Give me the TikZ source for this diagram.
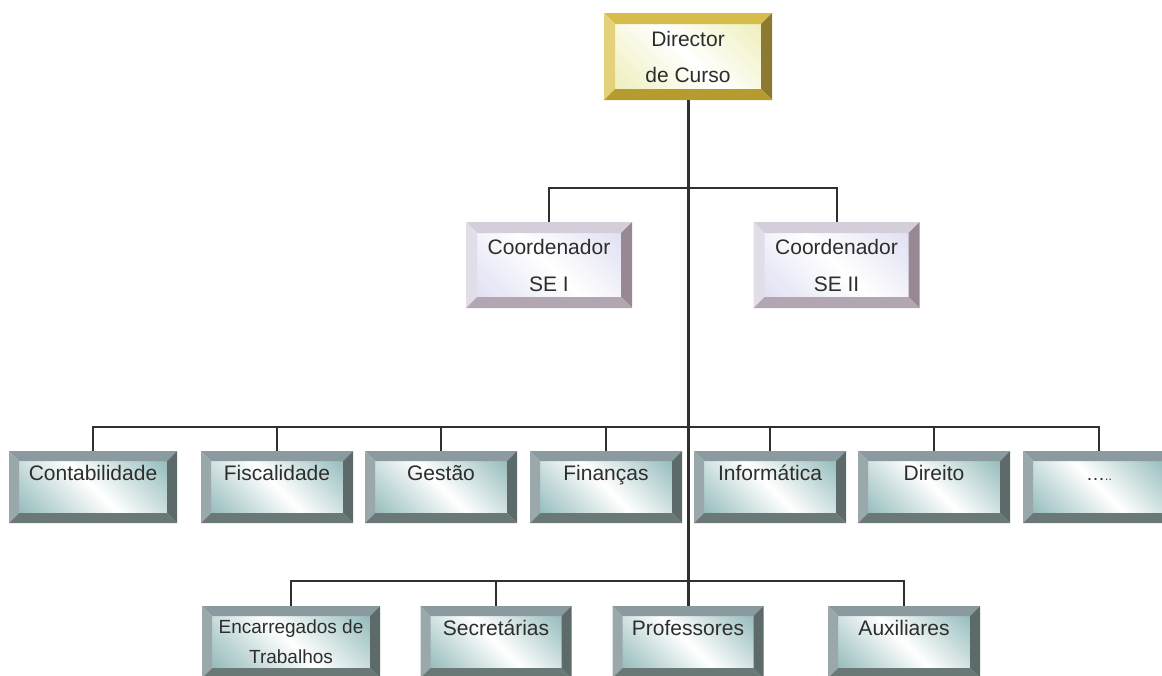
\documentclass[tikz,border=0pt]{standalone}
\usepackage{fontspec}
\setmainfont{Liberation Sans}

% bevel palettes: top, left, right, bottom edges and the face tint
\definecolor{gold-top}{RGB}{214,188,74}
\definecolor{gold-left}{RGB}{228,210,122}
\definecolor{gold-right}{RGB}{140,122,50}
\definecolor{gold-bottom}{RGB}{182,156,46}
\definecolor{gold-face}{RGB}{236,236,176}
\definecolor{lav-top}{RGB}{212,206,218}
\definecolor{lav-left}{RGB}{226,222,232}
\definecolor{lav-right}{RGB}{152,136,146}
\definecolor{lav-bottom}{RGB}{178,166,178}
\definecolor{lav-face}{RGB}{218,218,240}
\definecolor{teal-top}{RGB}{138,154,158}
\definecolor{teal-left}{RGB}{154,168,172}
\definecolor{teal-right}{RGB}{92,106,106}
\definecolor{teal-bottom}{RGB}{106,120,120}
\definecolor{teal-face}{RGB}{130,175,175}
\definecolor{txt}{RGB}{45,45,45}
\definecolor{wire}{RGB}{48,48,48}

\pgfdeclarehorizontalshading{face-gold}{100bp}{color(0bp)=(gold-face); color(15bp)=(gold-face); color(50bp)=(white); color(85bp)=(gold-face); color(100bp)=(gold-face)}
\pgfdeclarehorizontalshading{face-lav}{100bp}{color(0bp)=(lav-face); color(15bp)=(lav-face); color(50bp)=(white); color(85bp)=(lav-face); color(100bp)=(lav-face)}
\pgfdeclarehorizontalshading{face-teal}{100bp}{color(0bp)=(teal-face); color(15bp)=(teal-face); color(50bp)=(white); color(85bp)=(teal-face); color(100bp)=(teal-face)}

\newcommand\bvpal{teal}
\newlength\bvw
\setlength\bvw{10pt}

\tikzset{
  bvpalette/.code={\def\bvpal{#1}},
  bvsize/.code={\setlength\bvw{#1}},
  bevelbox/.style={
    rectangle, inner sep=0pt, text=txt, align=center,
    font=\fontsize{21}{36}\selectfont,
    path picture={
      \shade[shading=face-\bvpal, shading angle=45]
        ([shift={(\bvw,\bvw)}]path picture bounding box.south west) rectangle
        ([shift={(-\bvw,-\bvw)}]path picture bounding box.north east);
      \fill[\bvpal-top] (path picture bounding box.north west) -- (path picture bounding box.north east)
        -- ([shift={(-\bvw,-\bvw)}]path picture bounding box.north east)
        -- ([shift={(\bvw,-\bvw)}]path picture bounding box.north west) -- cycle;
      \fill[\bvpal-left] (path picture bounding box.north west) -- (path picture bounding box.south west)
        -- ([shift={(\bvw,\bvw)}]path picture bounding box.south west)
        -- ([shift={(\bvw,-\bvw)}]path picture bounding box.north west) -- cycle;
      \fill[\bvpal-right] (path picture bounding box.north east) -- (path picture bounding box.south east)
        -- ([shift={(-\bvw,\bvw)}]path picture bounding box.south east)
        -- ([shift={(-\bvw,-\bvw)}]path picture bounding box.north east) -- cycle;
      \fill[\bvpal-bottom] (path picture bounding box.south west) -- (path picture bounding box.south east)
        -- ([shift={(-\bvw,\bvw)}]path picture bounding box.south east)
        -- ([shift={(\bvw,\bvw)}]path picture bounding box.south west) -- cycle;
    }
  },
  chief/.style={bevelbox, bvpalette=gold, bvsize=11pt, minimum width=168pt, minimum height=87pt},
  coord/.style={bevelbox, bvpalette=lav, bvsize=11pt, minimum width=166pt, minimum height=86pt,
    font=\fontsize{21}{37}\selectfont},
  unitbox/.style={bevelbox, bvpalette=teal, bvsize=10pt, minimum width=152pt, minimum height=72pt},
  unit/.style={unitbox, text height=15pt, text depth=28pt},
  conn/.style={draw=wire, line width=2pt},
  trunk/.style={draw=wire, line width=3pt}
}

\begin{document}
\begin{tikzpicture}[x=1pt, y=-1pt]
\useasboundingbox (0,0) rectangle (1162,675);
\clip (0,0) rectangle (1162,675);

% head of the course
\node[chief] (dir) at (688,56.5) {Director\\de Curso};

% coordinators
\node[coord] (se1) at (549,265) {Coordenador\\SE I};
\node[coord] (se2) at (836.5,265) {Coordenador\\SE II};

% areas
\node[unit, minimum width=168pt] (cont) at (93,487) {Contabilidade};
\node[unit] (fisc) at (277,487) {Fiscalidade};
\node[unit] (gest) at (441,487) {Gestão};
\node[unit] (fin)  at (606,487) {Finanças};
\node[unit] (inf)  at (770,487) {Informática};
\node[unit] (dir2) at (934,487) {Direito};
\node[unit] (more) at (1099,487) {{\fontsize{19}{19}\selectfont …}{\fontsize{12}{12}\selectfont ..}};

% staff
\node[unitbox, minimum width=178pt, font=\fontsize{19}{30}\selectfont] (enc) at (291,642) {Encarregados de\\Trabalhos};
\node[unit, minimum width=151pt] (sec)  at (496,642) {Secretárias};
\node[unit, minimum width=151pt] (prof) at (688,642) {Professores};
\node[unit] (aux)  at (904,642) {Auxiliares};

% bus levels
\coordinate (busA) at (0,188);
\coordinate (busB) at (0,427);
\coordinate (busC) at (0,581);

% connectors
\draw[conn] (se1.north) -- (se1.north |- busA) -- (se2.north |- busA) -- (se2.north);
\draw[conn] (cont.north) -- (cont.north |- busB) -- (more.north |- busB) -- (more.north);
\foreach \n in {fisc,gest,fin,inf,dir2}
  \draw[conn] (\n.north) -- (\n.north |- busB);
\draw[conn] (enc.north) -- (enc.north |- busC) -- (aux.north |- busC) -- (aux.north);
\draw[conn] (sec.north) -- (sec.north |- busC);
\draw[trunk] (dir.south) -- (prof.north);
\end{tikzpicture}
\end{document}
